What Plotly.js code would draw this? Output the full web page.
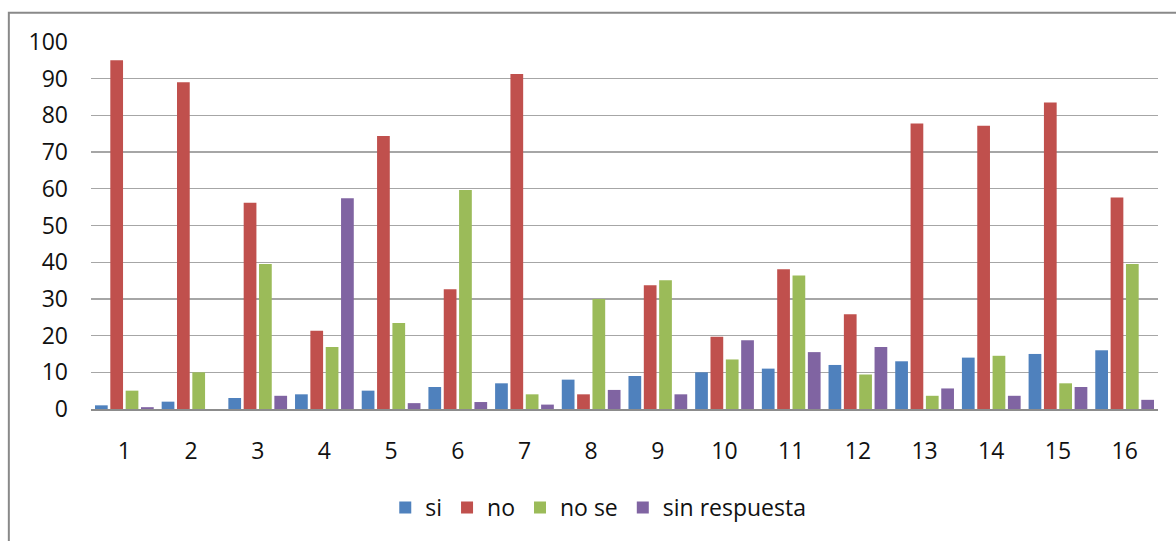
<!DOCTYPE html>
<html>
<head>
<meta charset="utf-8">
<script src="https://cdn.plot.ly/plotly-3.0.1.min.js"></script>
<style>
  html, body { margin: 0; padding: 0; background: #fff; }
  #chart { width: 1176px; height: 541px; }
</style>
</head>
<body>
<div id="chart"></div>
<script>
const categories = ['1','2','3','4','5','6','7','8','9','10','11','12','13','14','15','16'];
const si = [1, 2, 3, 4, 5, 6, 7, 8, 9, 10, 11, 12, 13, 14, 15, 16];
const no = [95, 89, 56.2, 21.3, 74.4, 32.6, 91.3, 4, 33.7, 19.7, 38.1, 25.8, 77.8, 77.2, 83.5, 57.6];
const noSe = [5, 10, 39.5, 16.9, 23.4, 59.7, 4, 30, 35.1, 13.5, 36.4, 9.4, 3.6, 14.5, 7, 39.5];
const sinRespuesta = [0.5, 0, 3.6, 57.4, 1.6, 1.9, 1.2, 5.2, 4, 18.7, 15.5, 16.9, 5.6, 3.6, 6, 2.5];
const yTicks = [0, 10, 20, 30, 40, 50, 60, 70, 80, 90, 100];

const seriesNames = ['si', 'no', 'no se', 'sin respuesta'];
const seriesValues = [si, no, noSe, sinRespuesta];
const seriesColors = ['#4F81BD', '#C0504D', '#9BBB59', '#8064A2'];

const traces = seriesNames.map((name, i) => ({
  type: 'bar',
  name: name,
  x: categories,
  y: seriesValues[i],
  marker: { color: seriesColors[i], line: { width: 0 } },
  hoverinfo: 'skip'
}));

const W = 1176, H = 541;
const L = 90.5, R = 1158, T = 42.3, B = 417.3;
const pw = R - L, ph = B - T;
const px = v => (v - L) / pw;
const py = v => (B - v) / ph;

const fontFam = '"Open Sans", Lato, "DejaVu Sans", sans-serif';
const fs = 23;

const layout = {
  width: W, height: H,
  margin: { l: L, r: W - R, t: T, b: H - B, pad: 0 },
  paper_bgcolor: '#ffffff',
  plot_bgcolor: '#ffffff',
  barmode: 'group',
  bargap: 0.08,
  bargroupgap: 0.17,
  showlegend: true,
  font: { family: fontFam, size: fs, color: '#111111' },
  xaxis: {
    type: 'category',
    showgrid: false,
    showline: true,
    linecolor: '#8c8c8c',
    linewidth: 1.5,
    ticks: '',
    ticklabelstandoff: 21,
    tickfont: { family: fontFam, size: fs, color: '#111111' },
    fixedrange: true
  },
  yaxis: {
    range: [0, 100],
    tickvals: yTicks,
    ticktext: yTicks.map(String),
    showgrid: true,
    gridcolor: '#a6a6a6',
    gridwidth: 1.3,
    zeroline: false,
    showline: false,
    ticks: '',
    ticklabelstandoff: 22,
    tickfont: { family: fontFam, size: fs, color: '#111111' },
    fixedrange: true
  },
  legend: {
    orientation: 'h',
    x: px(598),
    xanchor: 'center',
    y: py(518),
    yanchor: 'middle',
    itemwidth: 30,
    font: { family: fontFam, size: fs, color: '#111111' },
    bgcolor: 'rgba(0,0,0,0)',
    itemclick: false,
    itemdoubleclick: false
  },
  shapes: [{
    type: 'rect',
    xref: 'paper', yref: 'paper',
    x0: px(8.3), x1: px(1230),
    y0: py(620), y1: py(12.3),
    line: { color: '#898989', width: 2 },
    fillcolor: 'rgba(0,0,0,0)',
    layer: 'below'
  }]
};

Plotly.newPlot('chart', traces, layout, { displayModeBar: false, staticPlot: true });
</script>
</body>
</html>
